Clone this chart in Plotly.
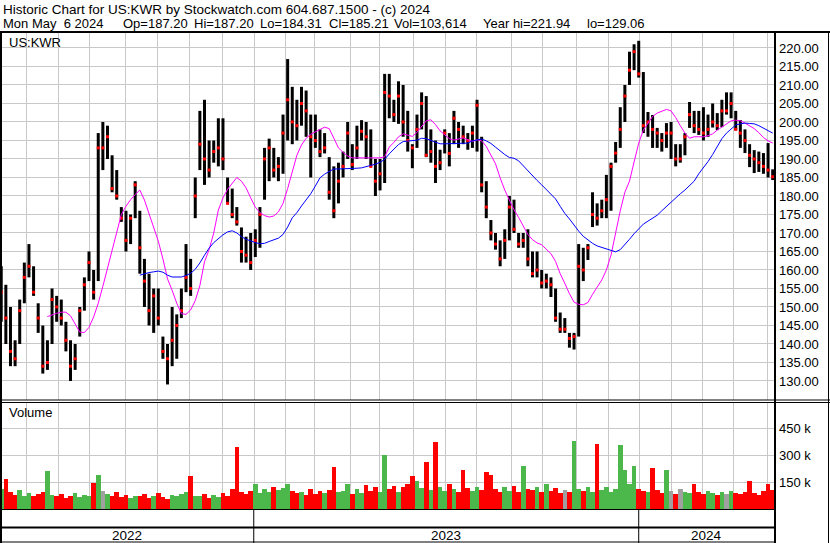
import plotly.graph_objects as go
import pandas as pd

W, H = 830, 543

# ---------------- DATA ----------------
nyse_holidays = ["2022-05-30", "2022-06-20", "2022-07-04", "2022-09-05", "2022-11-24", "2022-12-26",
                 "2023-01-02", "2023-01-16", "2023-02-20", "2023-04-07", "2023-05-29", "2023-06-19",
                 "2023-07-04", "2023-09-04", "2023-11-23", "2023-12-25",
                 "2024-01-01", "2024-01-15", "2024-02-19", "2024-03-29"]
trading_days = pd.bdate_range("2022-05-06", "2024-05-06", freq="C", holidays=nyse_holidays)

# one bar per 3 trading days (high, low, close)
bar_high = [161, 156, 150, 141, 152, 162, 167, 161, 151, 145,
            141, 155, 153, 152, 146, 141, 140, 150, 158, 165,
            160, 197, 200, 199, 191, 187, 177, 176, 175, 184,
            176, 163, 159, 155, 155, 142, 140, 150, 148, 155,
            167, 163, 185, 203, 206, 195, 195, 201, 201, 185,
            182, 177, 171.5, 169, 170, 171, 177, 193, 195.5, 193,
            190.5, 202, 217, 209.5, 206, 209.5, 208.5, 202, 202, 198,
            197, 190.5, 188, 189, 192, 200, 194, 199, 200.5, 200,
            198, 190, 190, 213, 213, 206, 211, 210, 203, 194,
            202, 208, 207, 198, 195, 192.5, 198, 197, 203, 200,
            199, 197, 199, 206, 196, 184, 173.5, 170, 168, 171,
            180, 179, 170, 170, 171, 165, 165, 160, 159, 158,
            155, 148.5, 147, 143, 143, 167, 166, 167, 181, 178,
            179, 185.7, 189, 194.6, 204, 210, 219, 221, 221.94, 213.5,
            202.7, 201.9, 198.4, 197, 199.7, 200, 194, 194, 197, 205.4,
            203, 203, 204, 202, 205, 202.4, 206, 208, 208, 203,
            200.5, 198, 194, 192.4, 192, 191.6, 194.3, 187.2]
bar_low = [146, 140, 134, 134, 140, 151, 158, 153, 143, 132,
           133, 140, 146, 145, 138, 130, 133, 142, 149, 157,
           152, 157, 187, 190, 181, 179, 173, 165, 167, 174,
           159, 150, 145, 143, 145, 136, 129.06, 134, 136, 147,
           154, 153, 174, 187, 183, 185, 189, 188, 187, 178,
           174, 172, 162, 162, 160, 163.5, 166, 179, 184, 185,
           184, 186, 195, 194, 195, 199, 196, 185, 193, 190.5,
           191.5, 179, 174, 178, 185, 190, 187, 190, 195, 190,
           188, 180, 181.5, 183.5, 201, 200, 199.5, 196, 192, 187.5,
           193, 198, 190.5, 189, 183.5, 187, 191.5, 188, 194, 193,
           194, 192.5, 193, 192, 181, 174, 168, 165.5, 161, 163,
           168, 170, 166, 166, 161, 158, 158, 155, 155, 152.7,
           146, 143, 143, 139, 138.5, 142, 157, 162.7, 171.6, 172,
           174, 174, 176, 189, 193, 200, 210, 214, 212, 197,
           196, 193, 193, 192, 193, 190, 188, 189, 191, 198.4,
           197, 196.5, 195, 196, 198.5, 197.8, 198.6, 202, 201, 197.8,
           193, 191.6, 187.8, 186.2, 186.5, 186, 185, 184.31]
bar_close = [154, 147, 138, 136, 149, 158, 161, 154, 147, 134,
             135, 152, 150, 147, 141, 134, 136, 149, 156, 162,
             154, 193, 193, 196, 182, 180, 174, 168, 174, 183,
             166, 157, 149, 153, 147, 138, 136, 141, 145, 149,
             158, 155, 180, 194, 190, 187, 192, 193, 190, 178,
             175, 173, 165, 164, 162, 168, 175, 190, 193, 187,
             188, 197, 206, 200, 199, 205, 203, 196, 195, 192,
             193, 181, 176, 184, 188, 197, 188.5, 193, 197.5, 196,
             188, 184, 186, 208, 207, 202, 207, 200, 195, 193,
             198, 205, 191, 192, 188, 189, 197, 191.5, 201, 198,
             196, 195, 197, 204.5, 183, 177, 170, 167, 163, 168,
             177, 171, 167, 168, 163, 159, 160, 156.5, 157, 156,
             147, 144, 144, 141.5, 142, 161, 160, 166, 175, 174,
             176, 179, 188, 191.6, 198, 207, 214, 219, 213, 199,
             200, 198, 197, 195, 197, 197, 190, 190, 196, 202,
             199, 198, 197, 198, 200, 199, 203, 203, 205, 198,
             197, 195, 191, 190, 189, 188, 187, 185.21]
# moving averages (same 3-day grid)
ma_fast = [None] * 10 + [
    147.4, 147.9, 148.3, 148.6, 148.6, 147.6, 145.5, 143.2, 143.1, 144.5,
    147.3, 151, 155.6, 160.6, 165.5, 170.8, 175, 177.2, 179, 180.4,
    181.6, 178.9, 175, 171.4, 167.8, 163, 157.6, 154.5, 151, 148.2,
    148, 149.2, 151.7, 155.8, 162.2, 165.5, 170, 176.2, 179.5, 181.8,
    183.3, 185, 184, 182.2, 179.5, 177, 175.5, 174.7, 174.3, 174.6,
    175.7, 178, 182, 186.9, 191, 193.8, 195.6, 196.7, 197.3, 198,
    198.6, 198.2, 195.6, 193, 191.8, 190.8, 190.3, 190.3, 190.3, 190.3,
    190.3, 190.1, 190.3, 190.6, 193.2, 194.5, 196, 196.8, 196.5, 196.1,
    197.2, 198.8, 200.3, 200.6, 199.3, 197.6, 196.5, 195.5, 195.1, 195.4,
    195.7, 195.2, 194.7, 195.2, 194.9, 193.4, 191, 188.7, 184.9, 181.6,
    178.9, 176.3, 174.2, 171.8, 169.6, 168.2, 167.3, 166.8, 165.7, 164.4,
    162.3, 159, 156.4, 153.6, 151.3, 150.7, 150.6, 151.2, 153.4, 155.4,
    157.3, 160, 164, 170, 176, 181, 184, 189.2, 194.3, 197.8,
    199.8, 201.5, 202.4, 203, 203.4, 203, 201.2, 199, 197, 195.6,
    196, 196, 196, 196.3, 196.8, 197.8, 198.6, 199.3, 200.3, 200.5,
    200.3, 199.7, 199, 198.2, 197.1, 195.8, 194.9, 194.3]
ma_slow = [None] * 30 + [
    158.6, 159, 159.3, 159.5, 159.7, 159.4, 158.6, 158.1, 158.1, 158.1,
    158.5, 159.1, 160.2, 161.9, 164, 165.9, 167.4, 168.5, 169.5, 170.3,
    170.6, 170, 169, 168.3, 167.8, 167.4, 167.1, 167.2, 167.7, 168.2,
    168.6, 169.6, 171.6, 174.1, 175.5, 177.3, 179, 180.6, 182.7, 184.9,
    185.9, 186.7, 187.3, 187.3, 187.3, 187.3, 187.4, 187.5, 187.6, 187.9,
    188.1, 188.6, 189.1, 189.9, 191.4, 192.7, 193.9, 194.7, 194.8, 194.9,
    195.1, 195.6, 195.5, 195, 194.5, 194.1, 194.1, 194.1, 194.1, 194.1,
    194.1, 194.3, 194.9, 195.2, 195.4, 194.9, 194.2, 193.2, 192.1, 191.2,
    190.4, 190.2, 189.5, 188.1, 186.8, 185.5, 184.2, 183, 181.7, 180.5,
    179.2, 177.2, 175.3, 173.8, 172.1, 170.5, 169.1, 168.1, 167.2, 166.5,
    166.1, 165.7, 165.2, 164.9, 165.5, 166.8, 168.3, 169.8, 171.2, 172.4,
    173.2, 173.9, 174.8, 176, 177.2, 178.4, 179.6, 180.6, 181.6, 182.8,
    184, 186, 187.6, 189.3, 191.2, 193.4, 195.5, 197, 198.2, 199.2,
    199.5, 199.7, 199.6, 199.5, 199, 198.4, 197.8, 197]
# average daily volume (thousands) per 3-day bar
volume_k = [110, 167, 95, 80, 105, 75, 90, 70, 85, 95,
            212, 80, 70, 85, 60, 75, 90, 65, 80, 70,
            145, 190, 100, 85, 70, 95, 65, 80, 60, 75,
            70, 85, 60, 75, 90, 65, 55, 80, 70, 85,
            95, 184, 75, 70, 85, 60, 80, 65, 90, 70,
            110, 346, 95, 85, 100, 141, 90, 110, 95, 120,
            105, 115, 140, 100, 90, 95, 80, 110, 85, 100,
            90, 105, 234, 95, 100, 140, 85, 110, 90, 135,
            100, 120, 95, 301, 110, 130, 95, 120, 140, 184,
            156, 115, 262, 105, 374, 120, 100, 140, 110, 95,
            218, 115, 100, 125, 105, 207, 190, 110, 95, 120,
            100, 130, 95, 240, 110, 105, 120, 95, 140, 100,
            115, 90, 105, 95, 379, 110, 100, 120, 95, 363,
            105, 120, 95, 110, 357, 218, 140, 240, 110, 100,
            95, 229, 105, 90, 218, 100, 85, 110, 95, 90,
            140, 95, 85, 100, 90, 80, 95, 85, 100, 90,
            85, 95, 156, 90, 80, 100, 140, 104]
price_ticks = list(range(130, 221, 5))
volume_ticks = [150000, 300000, 450000]
volume_tick_text = ["150 k", "300 k", "450 k"]
header_1 = "Historic Chart for US:KWR by Stockwatch.com 604.687.1500 - (c) 2024"
header_2 = ["Mon May\u00a0\u00a06 2024", "Op=187.20", "Hi=187.20", "Lo=184.31", "Cl=185.21",
            "Vol=103,614", "Year hi=221.94", "lo=129.06"]
header_2_px = [2, 122, 193, 259, 328, 393, 482, 586]

# ---------------- BUILD ----------------
N = len(trading_days)
bar_idx = [min(3 * k, N - 1) for k in range(len(bar_close))]

def PX(x):
    return x / W

def PY(y):
    return 1 - y / H

X0, X1 = 2, 775
XR = (0.5, N + 0.5)

def idx_to_px(i):
    return X0 + (i - XR[0]) / (XR[1] - XR[0]) * (X1 - X0)

month_idx = [i - 0.5 for i in range(1, N) if trading_days[i].month != trading_days[i - 1].month]
year_idx = [i for i in range(1, N) if trading_days[i].year != trading_days[i - 1].year]

seg_x, seg_y = [], []
for i, hi, lo in zip(bar_idx, bar_high, bar_low):
    seg_x += [i, i, None]
    seg_y += [lo, hi, None]

fig = go.Figure()
fig.add_trace(go.Scatter(x=seg_x, y=seg_y, mode="lines", line=dict(color="black", width=3),
                         hoverinfo="skip", xaxis="x", yaxis="y"))
fig.add_trace(go.Scatter(x=bar_idx, y=bar_close, mode="markers",
                         marker=dict(symbol="square", size=3, color="#ff0000", line=dict(width=0)),
                         xaxis="x", yaxis="y"))
fig.add_trace(go.Scatter(x=bar_idx, y=ma_fast, mode="lines", line=dict(color="#ff00ff", width=1),
                         xaxis="x", yaxis="y"))
fig.add_trace(go.Scatter(x=bar_idx, y=ma_slow, mode="lines", line=dict(color="#0000ff", width=1),
                         xaxis="x", yaxis="y"))

vol_colors = []
prev = None
for c in bar_close:
    if prev is None or c > prev:
        vol_colors.append("#4cb84c")
    elif c < prev:
        vol_colors.append("#ff0000")
    else:
        vol_colors.append("#a0a0a0")
    prev = c
fig.add_trace(go.Bar(x=bar_idx, y=[v * 1000 for v in volume_k], width=3,
                     marker=dict(color=vol_colors, line=dict(width=0)),
                     xaxis="x2", yaxis="y2"))

grid = "#c8c8c8"
axis_font = dict(family="Liberation Sans, Arial, sans-serif", size=13, color="#000000")
fig.update_layout(
    width=W, height=H, margin=dict(l=0, r=0, t=0, b=0),
    paper_bgcolor="white", plot_bgcolor="white", showlegend=False, bargap=0,
    xaxis=dict(domain=[PX(X0), PX(X1)], range=list(XR), tickvals=month_idx, showticklabels=False,
               showgrid=True, gridcolor=grid, gridwidth=1, zeroline=False, showline=False,
               ticks="", anchor="y", fixedrange=True),
    yaxis=dict(domain=[PY(400), PY(33)], range=[124.86, 224.05], side="right", tickvals=price_ticks,
               tickformat=".2f", showgrid=True, gridcolor=grid, gridwidth=1, zeroline=False,
               showline=False, ticks="", tickfont=axis_font, anchor="x", ticklabelstandoff=3),
    xaxis2=dict(domain=[PX(X0), PX(X1)], range=list(XR), tickvals=month_idx, showticklabels=False,
                showgrid=True, gridcolor=grid, gridwidth=1, zeroline=False, showline=False,
                ticks="", anchor="y2", matches="x"),
    yaxis2=dict(domain=[PY(509), PY(403)], range=[0, 591000], side="right", tickvals=volume_ticks,
                ticktext=volume_tick_text, showgrid=True, gridcolor=grid, gridwidth=1,
                zeroline=False, showline=False, ticks="", tickfont=axis_font, anchor="x2",
                ticklabelstandoff=3),
)

shapes = []

def hline(y, x0, x1, w=1):
    shapes.append(dict(type="line", xref="paper", yref="paper", x0=PX(x0), x1=PX(x1),
                       y0=PY(y), y1=PY(y), line=dict(color="black", width=w)))

def vline(x, y0, y1, w=1):
    shapes.append(dict(type="line", xref="paper", yref="paper", x0=PX(x), x1=PX(x),
                       y0=PY(y0), y1=PY(y1), line=dict(color="black", width=w)))

hline(32, 0, 830, 2)
hline(400, 0, 830, 1)
hline(402.5, 0, 830, 1)
hline(509.5, 0, 775, 1)
hline(527.5, 0, 775, 2)
hline(542, 0, 775, 1)
vline(1, 32, 543, 2)
vline(775, 32, 543, 2)
vline(828.5, 32, 543, 1)
for yi in year_idx:
    xp = idx_to_px(yi - 1)
    vline(xp, 509.5, 543, 1)

fig.update_layout(shapes=shapes)

txt = dict(family="Liberation Sans, Arial, sans-serif", size=13.5, color="#000000")
txt2 = dict(family="Liberation Sans, Arial, sans-serif", size=13, color="#000000")
ann = [dict(text=header_1, x=PX(2), y=PY(1), xref="paper", yref="paper", xanchor="left",
            yanchor="top", showarrow=False, font=txt, borderpad=0)]
for t, xp in zip(header_2, header_2_px):
    ann.append(dict(text=t, x=PX(xp), y=PY(15.5), xref="paper", yref="paper", xanchor="left",
                    yanchor="top", showarrow=False, font=txt2, borderpad=0))
ann.append(dict(text="US:KWR", x=PX(8), y=PY(42), xref="paper", yref="paper", xanchor="left",
                yanchor="middle", showarrow=False, font=txt2, borderpad=0))
ann.append(dict(text="Volume", x=PX(8), y=PY(413), xref="paper", yref="paper", xanchor="left",
                yanchor="middle", showarrow=False, font=txt2, borderpad=0))
bounds_px = [0] + [idx_to_px(yi - 1) for yi in year_idx] + [X1]
year_labels = [str(trading_days[0].year)] + [str(trading_days[yi].year) for yi in year_idx]
for j, label in enumerate(year_labels):
    mid = (bounds_px[j] + bounds_px[j + 1]) / 2
    ann.append(dict(text=label, x=PX(mid), y=PY(535), xref="paper", yref="paper",
                    xanchor="center", yanchor="middle", showarrow=False, font=txt, borderpad=0))
fig.update_layout(annotations=ann)

fig.write_html("out.html", config={"displayModeBar": False},
               post_script="document.body.style.margin='0';document.body.style.padding='0';")
